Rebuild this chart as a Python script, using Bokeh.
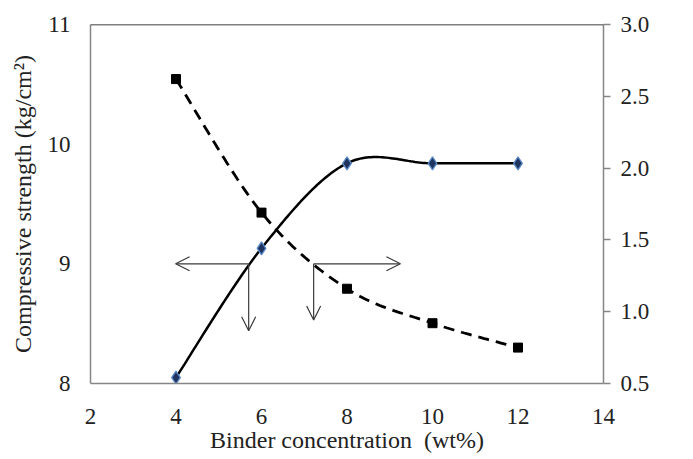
import numpy as np
from bokeh.plotting import figure
from bokeh.models import (Range1d, LinearAxis, FixedTicker, NumeralTickFormatter,
                          Arrow, OpenHead, Label, Span)
from bokeh.embed import file_html
from bokeh.resources import INLINE

# ---- data ----
binder = [4, 6, 8, 10, 12]
strength = [8.05, 9.13, 9.84, 9.84, 9.84]
shatter = [2.62, 1.69, 1.16, 0.92, 0.75]

x_ticks = [2, 4, 6, 8, 10, 12, 14]
left_ticks = [8, 9, 10, 11]
right_ticks = [0.5, 1.0, 1.5, 2.0, 2.5, 3.0]

# annotation arrows (binder, strength units): start point and end point
arrow_x_start = [5.70, 5.70, 7.22, 7.22]
arrow_y_start = [9.0, 9.0, 9.0, 9.0]
arrow_x_end = [3.99, 5.70, 9.25, 7.22]
arrow_y_end = [9.0, 8.44, 9.0, 8.53]

FONT = "Liberation Serif"
FS = "23px"
FT = "24px"


def excel_smooth(xs, ys, n=40):
    P = np.column_stack([np.asarray(xs, float), np.asarray(ys, float)])
    segs = []
    for i in range(len(P) - 1):
        p0 = P[i - 1] if i > 0 else P[i]
        p1 = P[i]
        p2 = P[i + 1]
        p3 = P[i + 2] if i + 2 < len(P) else P[i + 1]
        c1 = p1 + (p2 - p0) / 6.0
        c2 = p2 - (p3 - p1) / 6.0
        t = np.linspace(0, 1, n)[:, None]
        seg = (1 - t) ** 3 * p1 + 3 * (1 - t) ** 2 * t * c1 + 3 * (1 - t) * t ** 2 * c2 + t ** 3 * p2
        if i > 0:
            seg = seg[1:]
        segs.append(seg)
    S = np.vstack(segs)
    return S[:, 0], S[:, 1]


p = figure(width=685, height=456, x_range=Range1d(2, 14), y_range=Range1d(8, 11),
           output_backend="svg", toolbar_location=None,
           min_border_left=90, min_border_right=82, min_border_top=24, min_border_bottom=73)
p.xgrid.visible = False
p.ygrid.visible = False
p.outline_line_color = None
p.background_fill_color = "white"
p.border_fill_color = "white"

p.extra_y_ranges = {"shatter": Range1d(0.5, 3.0)}

AXIS_COLOR = "#868686"

for ax in (p.xaxis[0], p.yaxis[0]):
    ax.axis_line_color = AXIS_COLOR
    ax.axis_line_width = 1.5
    ax.major_tick_out = 0
    ax.major_tick_in = 0
    ax.minor_tick_line_color = None
    ax.major_label_text_font = FONT
    ax.major_label_text_font_size = FS
    ax.major_label_text_color = "#222222"
    ax.axis_label_text_font = FONT
    ax.axis_label_text_font_size = FT
    ax.axis_label_text_font_style = "normal"
    ax.axis_label_text_color = "#222222"

p.xaxis.ticker = FixedTicker(ticks=x_ticks)
p.xaxis.axis_label = "Binder concentration \u00a0(wt%)"
p.xaxis.major_label_standoff = 25
p.xaxis.axis_label_standoff = 0

p.yaxis.ticker = FixedTicker(ticks=left_ticks)
p.yaxis.axis_label = "Compressive strength (kg/cm\u00b2)"
p.yaxis.major_label_standoff = 20
p.yaxis.axis_label_standoff = 9

rax = LinearAxis(y_range_name="shatter", ticker=FixedTicker(ticks=right_ticks),
                 formatter=NumeralTickFormatter(format="0.0"))
rax.axis_line_color = AXIS_COLOR
rax.axis_line_width = 1.5
rax.major_tick_line_color = AXIS_COLOR
rax.major_tick_line_width = 1.5
rax.major_tick_out = 7
rax.major_tick_in = 0
rax.minor_tick_line_color = None
rax.major_label_standoff = 10
rax.major_label_text_font = FONT
rax.major_label_text_font_size = FS
rax.major_label_text_color = "#222222"
p.add_layout(rax, "right")

# top frame line
p.add_layout(Span(location=11, dimension="width", line_color="#000000", line_width=1.5))

# right axis title
p.add_layout(Label(x=14, y=1.75, y_range_name="shatter", x_offset=69,
                   text="Shatter index \u00a0 (wt%)", angle=90, angle_units="deg",
                   text_align="center", text_baseline="middle",
                   text_font=FONT, text_font_size=FT, text_color="#222222"))

# arrows
for xs, ys, xe, ye in zip(arrow_x_start, arrow_y_start, arrow_x_end, arrow_y_end):
    p.add_layout(Arrow(end=OpenHead(size=14, line_color="#3a3a3a", line_width=1.2),
                       x_start=xs, y_start=ys, x_end=xe, y_end=ye,
                       line_color="#3a3a3a", line_width=1.2))

# compressive strength: smooth solid line with diamonds
sx, sy = excel_smooth(binder, strength)
p.line(sx, sy, line_color="black", line_width=2.5)
p.scatter(binder, strength, marker="diamond", size=13, fill_color="#1F3560",
          line_color="#5B8BC8", line_width=1.3)

# shatter index: smooth dashed line with squares
hx, hy = excel_smooth(binder, shatter)
p.line(hx, hy, line_color="black", line_width=2.8, line_dash="11 7",
       y_range_name="shatter")
p.scatter(binder, shatter, marker="square", size=9, fill_color="black",
          line_color="black", y_range_name="shatter")

open("out.html", "w").write(file_html(p, INLINE))
